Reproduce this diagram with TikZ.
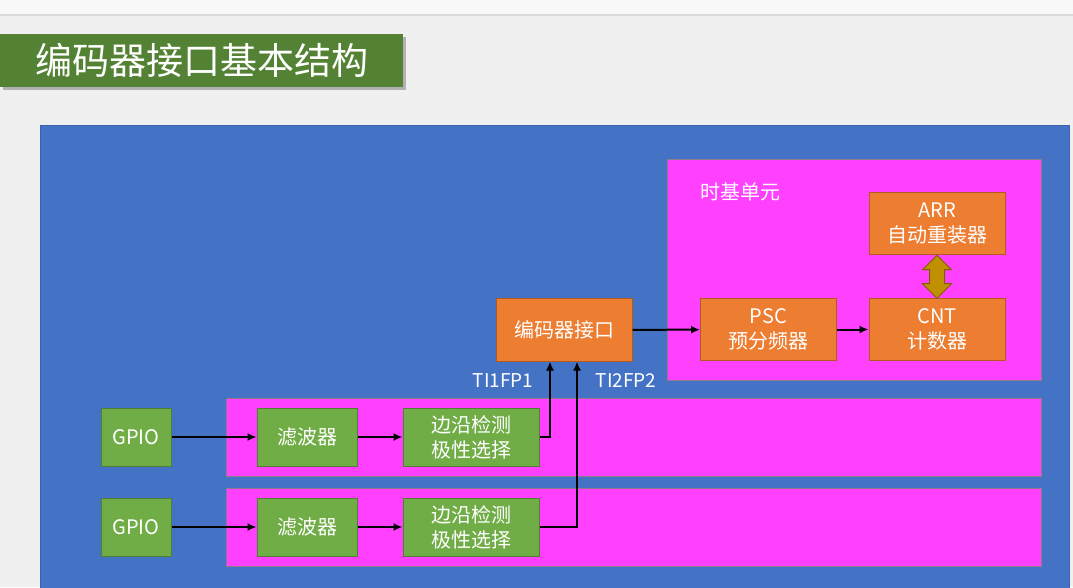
\documentclass[tikz,border=0pt]{standalone}
\usepackage{fontspec}
\setmainfont{Noto Sans CJK SC}
\usetikzlibrary{arrows.meta,shapes.arrows,calc}

\definecolor{pagegray}{HTML}{F0F0F0}
\definecolor{stripgray}{HTML}{F8F8F8}
\definecolor{titlegreen}{HTML}{548235}
\definecolor{pptblue}{HTML}{4472C4}
\definecolor{blueline}{HTML}{3B64AD}
\definecolor{zonemag}{HTML}{FF40FF}
\definecolor{zoneline}{HTML}{8C7C8C}
\definecolor{boxorange}{HTML}{ED7D31}
\definecolor{orangeline}{HTML}{AE5A21}
\definecolor{boxgreen}{HTML}{70AD47}
\definecolor{greenline}{HTML}{507E32}
\definecolor{arrowgold}{HTML}{BF9000}
\definecolor{goldline}{HTML}{7F6000}

\newcommand{\boxfont}{\fontsize{20}{25}\selectfont}

\begin{document}
\begin{tikzpicture}[>={Latex[length=9pt,width=8pt]}, x=1pt, y=1pt,
  zone/.style={draw=zoneline, fill=zonemag, line width=1pt, inner sep=0pt},
  orangebox/.style={draw=orangeline, fill=boxorange, text=white, line width=1pt,
    minimum width=136pt, minimum height=62pt, inner sep=0pt, align=center, font=\boxfont},
  greenbox/.style={draw=greenline, fill=boxgreen, text=white, line width=1pt,
    minimum width=#1, minimum height=58pt, inner sep=0pt, align=center, font=\boxfont},
  wire/.style={->, line width=2pt, black},
  tilabel/.style={text=white, font=\fontsize{19}{22}\selectfont, inner sep=0pt}]

  %--- page size
  \def\W{1073}
  \def\H{587}
  \useasboundingbox (0,0) rectangle (\W,\H);

  %--- page background + top strip
  \fill[pagegray] (0,0) rectangle (\W,\H);
  \fill[stripgray] (0,572) rectangle (\W,\H);
  \draw[gray!30, line width=2pt] (0,572) -- (\W,572);

  %--- title bar
  \fill[gray!60] (3,497) rectangle (406,550);
  \node[fill=titlegreen, text=white, minimum width=403pt, minimum height=53pt, inner sep=0pt,
    font=\fontsize{37}{40}\selectfont] (title) at (201.5,526.5) {编码器接口基本结构};

  %--- blue working area
  \draw[blueline, fill=pptblue, line width=1pt] (40,-2) rectangle (1069,461);

  %--- time base unit
  \node[zone, minimum width=374pt, minimum height=220pt] (tb) at (854,317) {};
  \node[anchor=west, text=white, font=\boxfont, inner sep=0pt] (tblabel) at (700,395) {时基单元};

  \node[orangebox] (arr) at (937,363) {ARR\\自动重装器};
  \node[orangebox] (cnt) at (937,257.5) {CNT\\计数器};
  \node[orangebox] (psc) at (768.5,257.5) {PSC\\预分频器};
  \node[orangebox] (enc) at (564,257) {编码器接口};

  %--- reload link
  \node[double arrow, shape border rotate=90, draw=goldline, fill=arrowgold, line width=1pt,
    inner sep=7pt, double arrow head extend=7pt, minimum height=43pt]
    (link) at ($(arr.south)!0.5!(cnt.north)$) {};

  \draw[wire] (enc) -- (psc);
  \draw[wire] (psc) -- (cnt);

  %--- two input channels
  \foreach \r/\y in {1/150, 2/60}{
    \node[zone, minimum width=815pt, minimum height=78pt] (chan\r) at (633.5,\y) {};
    \node[greenbox=70pt] (gpio\r) at (136,\y) {GPIO};
    \node[greenbox=100pt] (filt\r) at (307,\y) {滤波器};
    \node[greenbox=136pt] (edge\r) at (471,\y) {边沿检测\\极性选择};
    \draw[wire] (gpio\r) -- (filt\r);
    \draw[wire] (filt\r) -- (edge\r);
  }

  %--- into the encoder interface
  \draw[wire] (edge1.east) -| ($(enc.south)+(-14,0)$);
  \draw[wire] (edge2.east) -| ($(enc.south)+(13,0)$);
  \node[tilabel] (ti1) at (503,206) {TI1FP1};
  \node[tilabel] (ti2) at (626,206) {TI2FP2};

\end{tikzpicture}
\end{document}
